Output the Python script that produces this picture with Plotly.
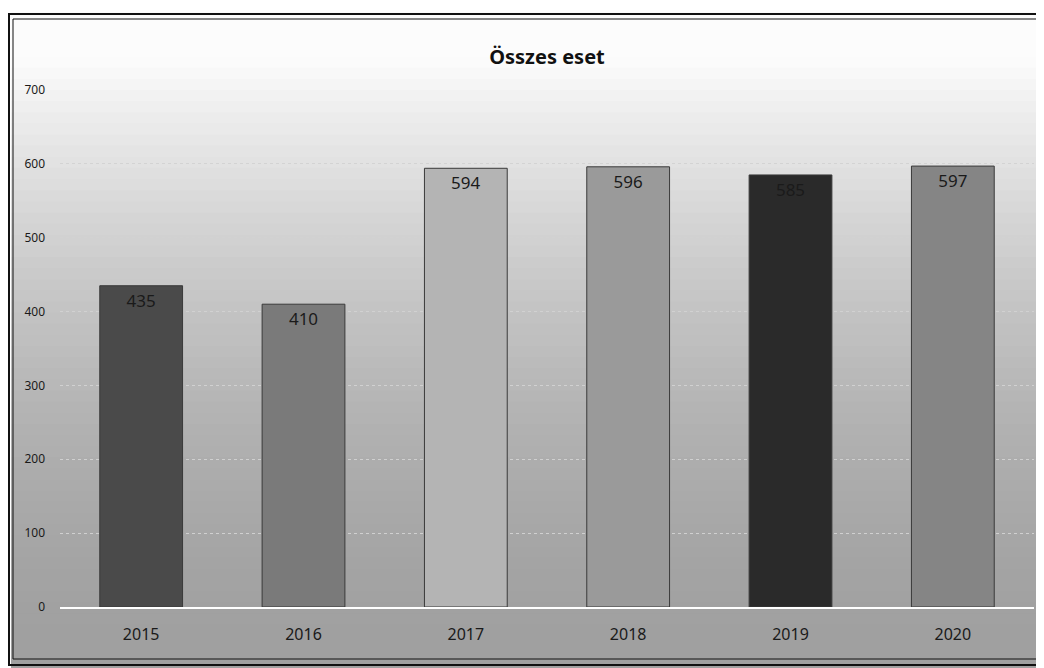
import plotly.graph_objects as go

years = ["2015", "2016", "2017", "2018", "2019", "2020"]
cases = [435, 410, 594, 596, 585, 597]
bar_colors = ["#4a4a4a", "#7a7a7a", "#b4b4b4", "#9a9a9a", "#2a2a2a", "#858585"]
y_ticks = [0, 100, 200, 300, 400, 500, 600, 700]

W, H = 1044, 668
OFF = 8  # page offset of the figure (body margin)
ML, MR, MT, MB = 60 - OFF, 10 + OFF, 90 - OFF, 61 + OFF
plot_h = H - MT - MB
plot_w = W - ML - MR

def py(pix):  # page pixel y -> paper y
    return (H - MB - (pix - OFF)) / plot_h

def px(pix):  # page pixel x -> paper x
    return ((pix - OFF) - ML) / plot_w

fig = go.Figure()
fig.add_trace(go.Bar(
    x=years, y=cases,
    marker=dict(color=bar_colors, line=dict(color="#3a3a3a", width=1)),
    width=0.51,
    text=[str(v) for v in cases],
    textposition="inside",
    insidetextanchor="end",
    textangle=0,
    textfont=dict(family="Noto Sans", size=17, color="#1a1a1a"),
    hoverinfo="skip",
))

shapes = []
n = 60
for i in range(n):
    y0 = 12 + (680 - 12) * i / n
    y1 = 12 + (680 - 12) * (i + 1) / n + 2
    t = (i + 0.5) / n
    if t < 0.07:
        g = 252
    else:
        s = (t - 0.07) / 0.93
        g = int(252 - 92 * (1 - (1 - s) ** 1.8))
    shapes.append(dict(type="rect", xref="paper", yref="paper",
                       x0=px(11), x1=px(1070), y0=py(y1), y1=py(y0),
                       fillcolor=f"rgb({g},{g},{g})", line=dict(width=0), layer="below"))
shapes.append(dict(type="rect", xref="paper", yref="paper",
                   x0=px(9), x1=px(1100), y0=py(665), y1=py(14),
                   line=dict(color="#111111", width=2), fillcolor="rgba(0,0,0,0)", layer="above"))
shapes.append(dict(type="rect", xref="paper", yref="paper",
                   x0=px(13), x1=px(1100), y0=py(659), y1=py(19),
                   line=dict(color="#111111", width=1), fillcolor="rgba(0,0,0,0)", layer="above"))

fig.update_layout(
    width=W, height=H,
    margin=dict(l=ML, r=MR, t=MT, b=MB),
    paper_bgcolor="white",
    plot_bgcolor="rgba(0,0,0,0)",
    shapes=shapes,
    showlegend=False,
    bargap=0.49,
    title=dict(text="<b>Összes eset</b>", x=0.5, xanchor="center", xref="paper",
               y=1 - (57 - OFF) / H, yanchor="middle",
               font=dict(family="Noto Sans", size=20, color="#111111")),
    font=dict(family="Noto Sans"),
)
fig.update_xaxes(
    type="category", showgrid=False, ticks="",
    showline=True, linecolor="white", linewidth=2,
    tickfont=dict(family="Noto Sans", size=16, color="#1a1a1a"),
    ticklabelstandoff=12,
)
fig.update_yaxes(
    range=[0, 700], tickvals=y_ticks, showgrid=True,
    gridcolor="rgba(210,210,210,0.95)", griddash="dot", gridwidth=1,
    zeroline=False, showline=False, ticks="",
    tickfont=dict(family="Noto Sans", size=12, color="#1a1a1a"),
    ticklabelstandoff=14,
)
fig.write_html("out.html")
